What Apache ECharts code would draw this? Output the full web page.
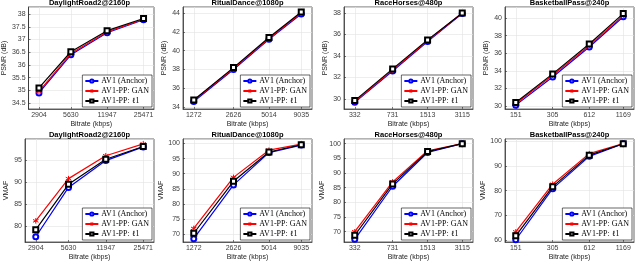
<!DOCTYPE html>
<html><head><meta charset="utf-8">
<script src="https://cdn.jsdelivr.net/npm/echarts@6/dist/echarts.min.js"></script>
<style>html,body{margin:0;padding:0;background:#fff}#c{width:640px;height:263px}</style>
</head><body><div id="c"></div>
<script>
// ---- data ----
const titles = ['DaylightRoad2@2160p', 'RitualDance@1080p', 'RaceHorses@480p', 'BasketballPass@240p'];
const bitrates = [
  [2904, 5630, 11947, 25471],
  [1272, 2626, 5014, 9035],
  [332, 731, 1513, 3115],
  [151, 305, 612, 1169]
];
const seriesNames = ['AV1 (Anchor)', 'AV1-PP: GAN', 'AV1-PP: \u21131'];

const psnrAnchor = [[34.90, 36.40, 37.27, 37.78], [34.60, 38.00, 41.20, 43.90], [29.70, 32.60, 35.35, 37.95], [30.10, 33.30, 36.70, 40.15]];
const psnrGan    = [[34.96, 36.45, 37.30, 37.80], [34.70, 38.10, 41.30, 44.00], [29.75, 32.70, 35.42, 38.00], [30.25, 33.50, 36.85, 40.30]];
const psnrL1     = [[35.10, 36.52, 37.35, 37.83], [34.75, 38.20, 41.40, 44.10], [29.85, 32.80, 35.50, 38.00], [30.40, 33.65, 37.05, 40.50]];

const vmafAnchor = [[77.6, 88.8, 94.9, 98.0], [68.5, 86.3, 97.0, 99.5], [67.4, 85.5, 97.0, 100.0], [60.2, 80.8, 93.8, 98.9]];
const vmafGan    = [[81.2, 90.8, 96.0, 98.7], [71.9, 88.8, 97.8, 99.8], [70.0, 87.0, 97.6, 100.0], [63.4, 82.6, 94.9, 99.0]];
const vmafL1     = [[79.2, 89.5, 95.2, 98.1], [70.3, 87.5, 97.2, 99.6], [68.8, 86.3, 97.3, 100.0], [61.8, 81.6, 94.3, 98.9]];

const psnrRange = [[34.27, 38.28], [33.80, 44.64], [29.07, 38.56], [29.66, 41.25]];
const psnrStep  = [0.5, 2, 2, 2];
const vmafRange = [[76.4, 99.8], [67.4, 101.5], [66.5, 101.6], [59.3, 100.8]];
const vmafStep  = [5, 5, 5, 10];

// ---- layout ----
const lefts = [25, 183, 344, 505];
const plotW = 129;
const rowTop = [7, 139];
const plotH = [102, 103];

const colors = ['#0000ff', '#ff0000', '#000000'];
const symbols = ['emptyCircle', 'path://M0 -5L0 5M-4.33 -2.5L4.33 2.5M-4.33 2.5L4.33 -2.5', 'emptyRect'];
const axisCol = '#262626';
const gridCol = '#e3e3e3';
const sans = 'Liberation Sans';

const grid = [], xAxis = [], yAxis = [], series = [], legend = [], title = [];

function addPanel(row, col, vals, range, step, yname) {
  const gi = grid.length;
  const left = lefts[col], top = rowTop[row], h = plotH[row];
  grid.push({left: left, top: top, width: plotW, height: h, show: true,
    borderColor: axisCol, borderWidth: 0.7, backgroundColor: '#fff', containLabel: false});
  const br = bitrates[col];
  const la = Math.log(br[0]), lb = Math.log(br[br.length - 1]);
  const pad = 0.1 * (lb - la);
  xAxis.push({type: 'log', gridIndex: gi, min: Math.exp(la - pad), max: Math.exp(lb + pad),
    axisLine: {lineStyle: {color: axisCol, width: 0.7}},
    axisTick: {inside: true, length: 2, customValues: br, lineStyle: {color: axisCol, width: 0.6}},
    axisLabel: {customValues: br, fontSize: 7, color: '#404040', margin: 3, fontFamily: sans,
      formatter: v => String(Math.round(v))},
    splitLine: {show: true, lineStyle: {color: gridCol, width: 0.6}},
    minorTick: {show: false}, minorSplitLine: {show: false},
    name: 'Bitrate (kbps)', nameLocation: 'middle', nameGap: 12,
    nameTextStyle: {fontSize: 7, color: axisCol, fontFamily: sans}});
  yAxis.push({type: 'value', gridIndex: gi, min: range[0], max: range[1],
    minInterval: step, maxInterval: step, splitNumber: Math.round((range[1] - range[0]) / step),
    axisLine: {show: true, lineStyle: {color: axisCol, width: 0.7}},
    axisTick: {show: true, inside: true, length: 2, lineStyle: {color: axisCol, width: 0.6}},
    axisLabel: {fontSize: 7, color: '#404040', margin: 3, fontFamily: sans, showMinLabel: false, showMaxLabel: false},
    splitLine: {show: true, lineStyle: {color: gridCol, width: 0.6}},
    name: yname, nameLocation: 'middle', nameGap: 15,
    nameTextStyle: {fontSize: 7, color: axisCol, fontFamily: sans}});
  vals.forEach((v, k) => {
    series.push({type: 'line', name: seriesNames[k], xAxisIndex: gi, yAxisIndex: gi,
      data: br.map((b, j) => [b, v[col][j]]),
      symbol: symbols[k], symbolSize: k === 1 ? 5.5 : 5, showSymbol: true,
      lineStyle: {color: colors[k], width: 1.2},
      itemStyle: {color: colors[k], borderColor: colors[k], borderWidth: 1},
      emphasis: {disabled: true}, z: 3 + k});
  });
  legend.push({orient: 'vertical', right: 640 - (left + plotW) + 2, bottom: 263 - (top + h) + 2,
    itemWidth: 13, itemHeight: 4, itemGap: 2, padding: [2, 3, 2, 2],
    backgroundColor: '#fff', borderColor: '#000', borderWidth: 0.6, borderRadius: 0,
    textStyle: {fontFamily: 'Liberation Serif', fontSize: 8, color: '#000', padding: [0, 0, 0, -2]},
    data: seriesNames, selectedMode: false});
  title.push({text: titles[col], left: left + plotW / 2, top: row === 0 ? -1.5 : 130.5, textAlign: 'center', padding: 0,
    textStyle: {fontSize: 7.5, fontWeight: 'bold', color: '#000', fontFamily: sans}});
}

for (let c = 0; c < 4; c++) addPanel(0, c, [psnrAnchor, psnrGan, psnrL1], psnrRange[c], psnrStep[c], 'PSNR (dB)');
for (let c = 0; c < 4; c++) addPanel(1, c, [vmafAnchor, vmafGan, vmafL1], vmafRange[c], vmafStep[c], 'VMAF');

const chart = echarts.init(document.getElementById('c'), null, {renderer: 'canvas'});
chart.setOption({animation: false, backgroundColor: '#fff', title, grid, xAxis, yAxis, series, legend});
</script></body></html>
